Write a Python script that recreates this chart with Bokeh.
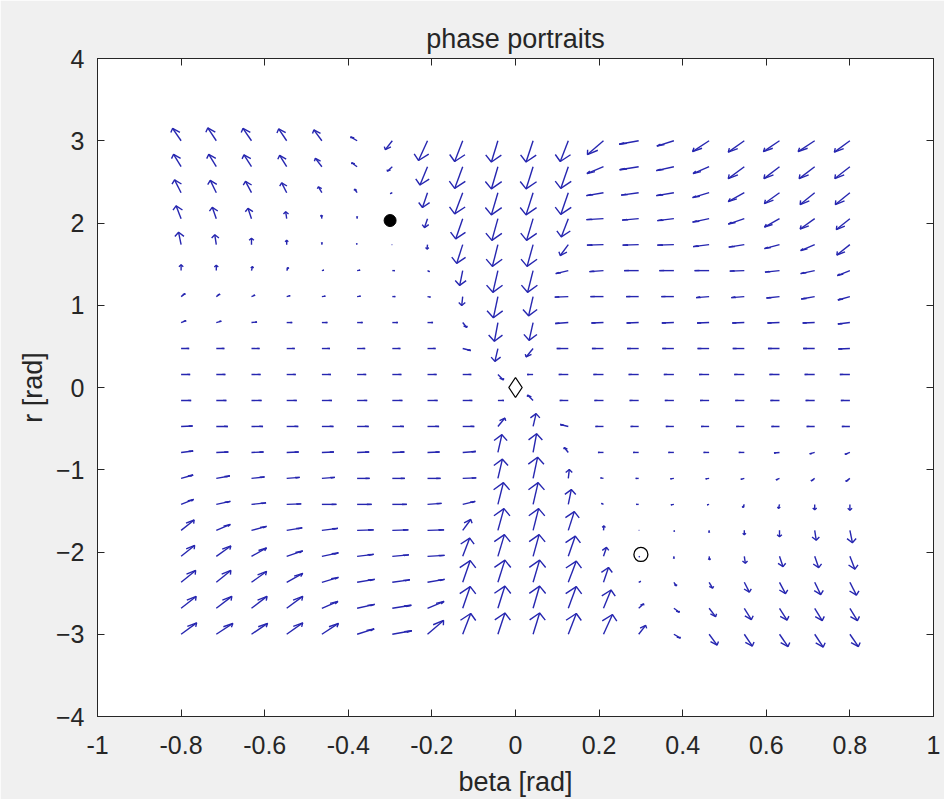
import numpy as np
from bokeh.plotting import figure
from bokeh.models import Range1d, FixedTicker, LinearAxis
from bokeh.embed import file_html
from bokeh.resources import INLINE

# grid of the phase portrait (beta across, r down the rows, top row first)
BETA = [-0.8, -0.7158, -0.6316, -0.5474, -0.4632, -0.3789, -0.2947, -0.2105, -0.1263, -0.0421,
        0.0421, 0.1263, 0.2105, 0.2947, 0.3789, 0.4632, 0.5474, 0.6316, 0.7158, 0.8]
R = [3.0, 2.6842, 2.3684, 2.0526, 1.7368, 1.4211, 1.1053, 0.7895, 0.4737, 0.1579,
     -0.1579, -0.4737, -0.7895, -1.1053, -1.4211, -1.7368, -2.0526, -2.3684, -2.6842, -3.0]

# beta_dot, one list per row (top row first)
BETA_DOT = [
    [-1.7, -1.7, -1.7, -1.6, -1.6, -1.3, -1.4, -1.8, -1.6, -1.3, -1.4, -1.6, -3.2, -3.9, -3.4, -3.3, -3.2, -3.2, -3.3, -3.1],
    [-1.5, -1.5, -1.5, -1.4, -1.3, -1.1, -1.0, -1.5, -1.6, -1.3, -1.4, -1.5, -3.3, -3.8, -3.5, -3.2, -3.2, -3.1, -3.1, -3.0],
    [-1.3, -1.2, -1.2, -1.0, -0.7, -0.5, -0.4, -1.0, -1.6, -1.3, -1.4, -1.5, -3.4, -3.5, -3.5, -3.3, -3.2, -3.0, -2.9, -2.9],
    [-1.0, -0.8, -0.7, -0.2, -0.1, 0.0, -0.2, -0.6, -1.4, -1.2, -1.3, -1.4, -3.4, -3.3, -3.3, -3.3, -3.2, -3.0, -2.9, -2.7],
    [-0.5, -0.3, 0.0, 0.0, 0.0, -0.1, -0.1, -0.1, -1.2, -1.1, -1.2, -1.6, -3.3, -3.2, -3.3, -3.2, -3.1, -3.0, -2.8, -2.6],
    [0.0, 0.0, 0.2, 0.3, 0.4, 0.6, 0.5, 0.4, -0.6, -1.0, -1.1, -2.5, -2.8, -2.9, -2.9, -2.9, -2.9, -2.9, -2.8, -2.5],
    [0.8, 0.7, 0.7, 0.7, 0.7, 0.7, 0.6, 0.6, -0.2, -0.9, -0.9, -2.7, -2.6, -2.5, -2.5, -2.6, -2.6, -2.6, -2.7, -2.4],
    [1.0, 1.0, 1.1, 1.1, 1.1, 1.1, 1.1, 1.1, 0.8, -0.7, -0.8, -2.6, -2.4, -2.4, -2.4, -2.4, -2.4, -2.4, -2.4, -2.4],
    [1.6, 1.6, 1.6, 1.6, 1.6, 1.6, 1.6, 1.6, 1.6, -0.6, -1.4, -2.3, -2.3, -2.3, -2.3, -2.3, -2.3, -2.3, -2.3, -2.3],
    [1.8, 1.8, 1.8, 1.8, 1.8, 1.8, 1.8, 1.8, 1.7, 1.1, -1.2, -1.9, -2.0, -2.0, -2.0, -2.0, -2.0, -2.0, -2.0, -2.0],
    [2.0, 2.0, 2.0, 2.0, 2.0, 2.0, 2.0, 2.0, 1.9, 1.2, -1.1, -1.7, -1.8, -1.8, -1.8, -1.8, -1.8, -1.8, -1.8, -1.8],
    [2.3, 2.3, 2.3, 2.3, 2.3, 2.3, 2.3, 2.3, 2.3, 1.4, 0.6, -1.6, -1.6, -1.6, -1.6, -1.6, -1.6, -1.6, -1.6, -1.6],
    [2.4, 2.4, 2.4, 2.4, 2.4, 2.4, 2.4, 2.4, 2.6, 0.8, 0.7, -0.8, -1.1, -1.1, -1.1, -1.1, -1.1, -1.1, -1.0, -1.0],
    [2.4, 2.7, 2.6, 2.6, 2.6, 2.5, 2.5, 2.6, 2.7, 0.9, 0.9, 0.2, -0.6, -0.6, -0.7, -0.7, -0.7, -0.7, -0.7, -0.8],
    [2.5, 2.8, 2.9, 2.9, 2.9, 2.9, 2.9, 2.8, 2.5, 1.1, 1.0, 0.6, -0.4, -0.5, -0.6, -0.4, -0.3, -0.2, 0.0, 0.0],
    [2.6, 2.8, 3.0, 3.1, 3.2, 3.3, 3.2, 3.3, 1.6, 1.2, 1.1, 1.2, 0.1, 0.1, 0.1, 0.0, 0.0, 0.0, 0.3, 0.5],
    [2.7, 2.9, 3.0, 3.2, 3.3, 3.3, 3.3, 3.4, 1.4, 1.3, 1.2, 1.4, 0.6, 0.2, 0.0, 0.1, 0.2, 0.7, 0.8, 1.0],
    [2.9, 2.9, 3.0, 3.2, 3.3, 3.5, 3.5, 3.4, 1.5, 1.4, 1.3, 1.6, 1.0, 0.4, 0.5, 0.7, 1.0, 1.2, 1.2, 1.3],
    [3.0, 3.1, 3.1, 3.2, 3.2, 3.5, 3.8, 3.3, 1.5, 1.4, 1.3, 1.6, 1.5, 1.0, 1.1, 1.3, 1.4, 1.5, 1.5, 1.5],
    [3.1, 3.3, 3.2, 3.2, 3.3, 3.4, 3.9, 3.2, 1.6, 1.4, 1.3, 1.6, 1.8, 1.4, 1.3, 1.6, 1.6, 1.7, 1.7, 1.7],
]

# r_dot, one list per row (top row first)
R_DOT = [
    [12.5, 13, 12.5, 12, 11, 4, -9, -20, -21, -21.5, -21.5, -21, -14, -3.5, -5.5, -11, -11.5, -11, -11, -11.5],
    [12.5, 12.5, 12, 11.5, 8.5, 4, -4.5, -18.5, -22, -22.5, -22.5, -22, -7, -3, -4, -7, -12, -12, -12, -12],
    [13, 12.5, 11.5, 10, 6, 3.5, -1, -15, -21.5, -22.5, -22.5, -22, -3, -2.5, -3, -5, -9, -11, -12, -12],
    [13, 11.5, 10.5, 7, 3.5, 2, 0.5, -9, -20.5, -22, -22, -18.5, -1, -1.5, -2, -3.5, -5.5, -8.5, -10.5, -11],
    [12.5, 10, 6.5, 4.5, 2, 1, 0, -4.5, -19, -22, -22, -11, -0.5, -0.5, -0.5, -2, -2.5, -4, -6, -10.5],
    [6, 5.5, 4, 3, 0.5, 0.5, 0, -1, -15, -22, -22, -3, -1, 0, 0, 0, -0.5, -1.5, -3, -5],
    [3, 2.5, 1.5, 1, 0.5, 0.5, 0, -0.5, -9, -21.5, -19.5, -0.5, 0, 0, 0, -1, -1, -1.5, -2.5, -3.5],
    [2, 1.5, 0.5, 0, 0, 0, 0, 0, -5, -19, -18, -1, -0.5, -0.5, -0.5, -0.5, -0.5, -0.5, -0.5, -1.5],
    [0, 0, 0, 0, 0, 0, 0, 0, -2, -13, -8.5, 0, 0, 0, 0, 0, 0, 0, 0, -0.5],
    [0, 0, 0, 0, 0, 0, 0, 0, 0, -5.5, 0, 0, 0, 0, 0, 0, 0, 0, 0, 0],
    [0, 0, 0, 0, 0, 0, 0, 0, 0, 0, 5.5, 0, 0, 0, 0, 0, 0, 0, 0, 0],
    [0.5, 0, 0, 0, 0, 0, 0, 0, 0, 8.5, 13, 2, 0, 0, 0, 0, 0, 0, 0, 0],
    [1.5, 0.5, 0.5, 0.5, 0.5, 0.5, 0.5, 0.5, 1, 18, 19, 5, 0, 0, 0, 0, 0, -0.5, -1.5, -2],
    [3.5, 2.5, 1.5, 1, 1, 0, 0, 0, 0.5, 19.5, 21.5, 9, 0.5, 0, -0.5, -0.5, -1, -1.5, -2.5, -3],
    [5, 3, 1.5, 0.5, 0, 0, 0, 1, 3, 22, 22, 15, 1, 0, -0.5, -0.5, -3, -4, -5.5, -6],
    [10.5, 6, 4, 2.5, 2, 0.5, 0.5, 0.5, 11, 22, 22, 19, 4.5, 0, -1, -2, -4.5, -6.5, -10, -12.5],
    [11, 10.5, 8.5, 5.5, 3.5, 2, 1.5, 1, 18.5, 22, 22, 20.5, 9, -0.5, -2, -3.5, -7, -10.5, -11.5, -13],
    [12, 12, 11, 9, 5, 3, 2.5, 3, 22, 22.5, 22.5, 21.5, 15, 1, -3.5, -6, -10, -11.5, -12.5, -13],
    [12, 12, 12, 12, 7, 4, 3, 7, 22, 22.5, 22.5, 22, 18.5, 4.5, -4, -8.5, -11.5, -12, -12.5, -12.5],
    [11.5, 11, 11, 11.5, 11, 5.5, 3.5, 14, 21, 21.5, 21.5, 21, 20, 9, -4, -11, -12, -12.5, -13, -12.5],
]

# equilibria
EQ_UPPER = ([-0.3], [2.03])
EQ_ORIGIN = ([0.0], [0.0])
EQ_LOWER = ([0.3], [-2.03])

X_TICKS = [-1, -0.8, -0.6, -0.4, -0.2, 0, 0.2, 0.4, 0.6, 0.8, 1]
X_LABELS = ["-1", "-0.8", "-0.6", "-0.4", "-0.2", "0", "0.2", "0.4", "0.6", "0.8", "1"]
Y_TICKS = [-4, -3, -2, -1, 0, 1, 2, 3, 4]

# quiver drawing (arrow scale and MATLAB-like head shape)
K = 0.012
HEAD_LEN = 0.33
HEAD_W = 0.22

xs, ys = [], []
for i, r in enumerate(R):
    for j, b in enumerate(BETA):
        u = K * BETA_DOT[i][j]
        v = K * R_DOT[i][j]
        tx, ty = b + u, r + v
        xs.append([b, tx])
        ys.append([r, ty])
        xs.append([tx - HEAD_LEN * (u + HEAD_W * v), tx, tx - HEAD_LEN * (u - HEAD_W * v)])
        ys.append([ty - HEAD_LEN * (v - HEAD_W * u), ty, ty - HEAD_LEN * (v + HEAD_W * u)])

TEXT = "#262626"
FONT = "Liberation Sans"

p = figure(width=944, height=799, output_backend="svg", toolbar_location=None,
           x_range=Range1d(-1, 1), y_range=Range1d(-4, 4),
           min_border_left=97, min_border_right=11, min_border_top=58, min_border_bottom=82,
           background_fill_color="white", border_fill_color="#f0f0f0",
           title="phase portraits")
p.title.align = "center"
p.title.text_font = FONT
p.title.text_font_size = "27px"
p.title.text_font_style = "normal"
p.title.text_color = TEXT
p.title.standoff = 10
p.grid.visible = False
p.outline_line_color = TEXT

p.multi_line(xs, ys, line_color="#2626b0", line_width=1.4)

p.scatter(EQ_UPPER[0], EQ_UPPER[1], marker="circle", size=12, fill_color="black", line_color="black")
p.scatter(EQ_ORIGIN[0], EQ_ORIGIN[1], marker="diamond", size=20, fill_color=None, line_color="black", line_width=1.3)
p.scatter(EQ_LOWER[0], EQ_LOWER[1], marker="circle", size=14, fill_color=None, line_color="black", line_width=1.3)

def style_axis(ax, labels=True):
    ax.axis_line_color = TEXT
    ax.major_tick_line_color = TEXT
    ax.major_tick_in = 7
    ax.major_tick_out = 0
    ax.minor_tick_line_color = None
    ax.major_label_text_font = FONT
    ax.axis_label_text_font = FONT
    ax.axis_label_text_color = TEXT
    ax.axis_label_text_font_style = "normal"
    if labels:
        ax.major_label_text_color = TEXT
        ax.major_label_text_font_size = "25px"
        ax.axis_label_text_font_size = "27px"
    else:
        ax.major_label_text_color = None
        ax.major_label_text_font_size = "0px"
        ax.major_label_standoff = 0

xa = p.xaxis[0]
xa.ticker = FixedTicker(ticks=X_TICKS)
xa.major_label_overrides = {t: l for t, l in zip(X_TICKS, X_LABELS)}
xa.axis_label = "beta [rad]"
style_axis(xa)
xa.major_label_standoff = 19
xa.axis_label_standoff = 10

ya = p.yaxis[0]
ya.ticker = FixedTicker(ticks=Y_TICKS)
ya.axis_label = "r [rad]"
style_axis(ya)
ya.major_label_standoff = 13
ya.axis_label_standoff = 5

top = LinearAxis(ticker=FixedTicker(ticks=X_TICKS))
style_axis(top, labels=False)
p.add_layout(top, "above")
right = LinearAxis(ticker=FixedTicker(ticks=Y_TICKS))
style_axis(right, labels=False)
p.add_layout(right, "right")

open("out.html", "w").write(file_html(p, INLINE))
